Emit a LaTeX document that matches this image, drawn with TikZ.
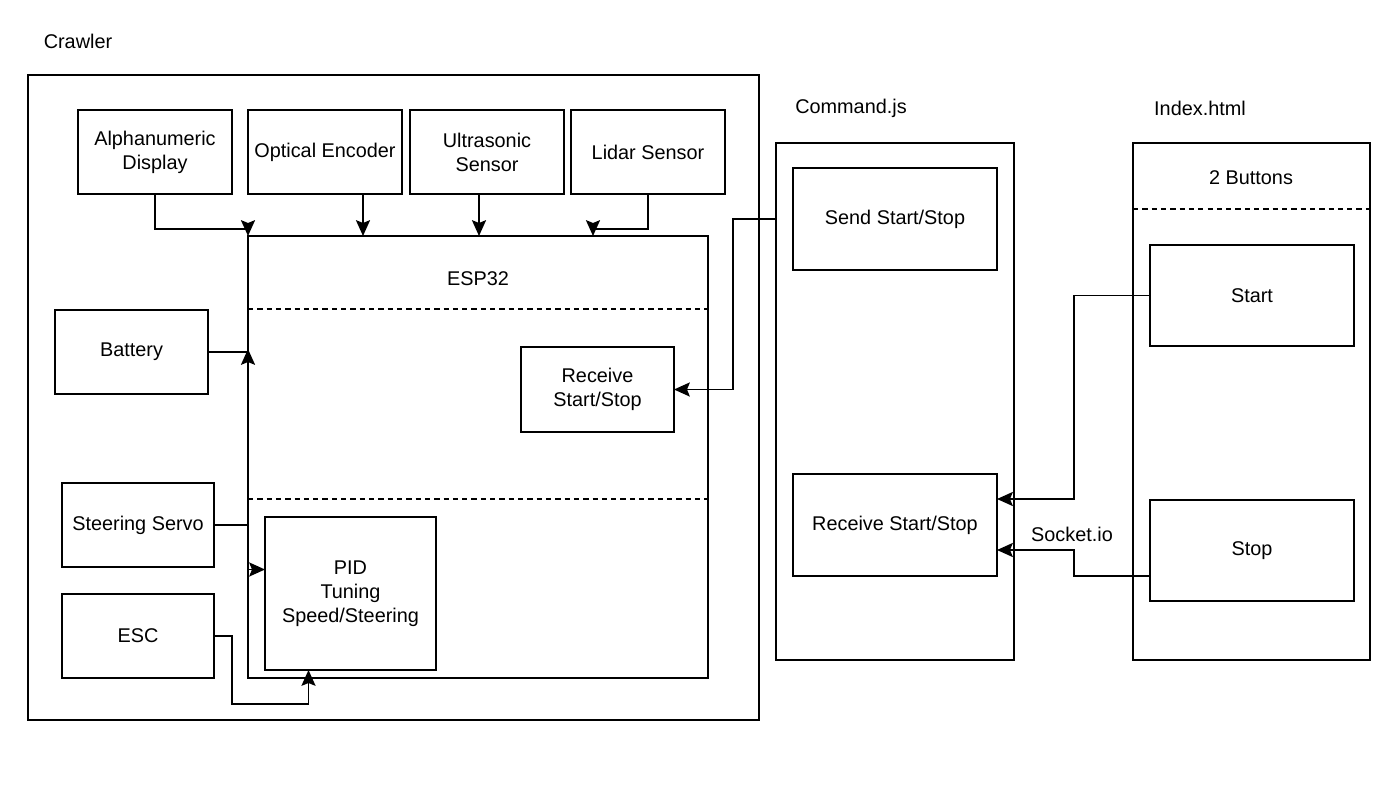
\documentclass[tikz,border=0pt]{standalone}
\usepackage{fontspec}
\setmainfont{Liberation Sans}
\usetikzlibrary{arrows.meta,calc}
\tikzset{
  box/.style={draw, line width=1.1pt, inner sep=0pt, outer sep=0pt, align=center, font=\fontsize{11.3}{13.6}\selectfont},
  lbl/.style={inner sep=0pt, font=\fontsize{11.3}{13.6}\selectfont},
  tip/.tip={Stealth[length=9pt,width=8pt,inset=1.6pt]},
  arr/.style={line width=1.1pt, -tip},
  conn/.style={line width=1.1pt},
  dline/.style={line width=1.1pt, dash pattern=on 3pt off 2.3pt}
}
\begin{document}
\begin{tikzpicture}[x=0.02cm,y=0.02cm]
\useasboundingbox (0,0) rectangle (1380,-794);
\begin{scope}[yscale=-1]
% containers
\node[box, minimum width=731*0.02cm, minimum height=645*0.02cm] (crawler) at (393.5,397.5) {};
\node[lbl] (crawlerlbl) at (78,41) {Crawler};
\node[box, minimum width=238*0.02cm, minimum height=517*0.02cm] (cmd) at (895,401.5) {};
\node[lbl] (cmdlbl) at (851,108) {Command.js};
\node[box, minimum width=237*0.02cm, minimum height=517*0.02cm] (index) at (1251.5,401.5) {};
\node[lbl] (indexlbl) at (1200,108) {Index.html};
\node[lbl] (twobtn) at (1251,178) {2 Buttons};
\node[box, minimum width=154*0.02cm, minimum height=84*0.02cm] (alpha) at (155,152) {Alphanumeric\\Display};
\node[box, minimum width=154*0.02cm, minimum height=84*0.02cm] (optical) at (325,152) {Optical Encoder};
\node[box, minimum width=154*0.02cm, minimum height=84*0.02cm] (ultra) at (487,152) {Ultrasonic\\Sensor};
\node[box, minimum width=154*0.02cm, minimum height=84*0.02cm] (lidar) at (648,152) {Lidar Sensor};
\node[box, minimum width=460*0.02cm, minimum height=442*0.02cm] (esp) at (478,457) {};
\node[lbl] (esplbl) at (478,279) {ESP32};
\node[box, minimum width=153*0.02cm, minimum height=85*0.02cm] (recv1) at (597.5,389.5) {Receive\\Start/Stop};
\node[box, minimum width=171*0.02cm, minimum height=153*0.02cm] (pid) at (350.5,593.5) {PID\\Tuning\\Speed/Steering};
\node[box, minimum width=153*0.02cm, minimum height=84*0.02cm] (battery) at (131.5,352) {Battery};
\node[box, minimum width=152*0.02cm, minimum height=84*0.02cm] (steer) at (138,525) {Steering Servo};
\node[box, minimum width=152*0.02cm, minimum height=84*0.02cm] (esc) at (138,636) {ESC};
\node[box, minimum width=204*0.02cm, minimum height=102*0.02cm] (send) at (895,219) {Send Start/Stop};
\node[box, minimum width=204*0.02cm, minimum height=102*0.02cm] (recv2) at (895,525) {Receive Start/Stop};
\node[box, minimum width=204*0.02cm, minimum height=101*0.02cm] (start) at (1252,295.5) {Start};
\node[box, minimum width=204*0.02cm, minimum height=101*0.02cm] (stop) at (1252,550.5) {Stop};
\node[lbl] (socket) at (1072,534) {Socket.io};
\end{scope}
% dashed separators
\draw[dline] ($(index.north west)+(0,-66)$) -- ($(index.north east)+(0,-66)$);
\draw[dline] ($(esp.north west)+(0,-73)$) -- ($(esp.north east)+(0,-73)$);
\draw[dline] ($(esp.north west)+(0,-263)$) -- ($(esp.north east)+(0,-263)$);
% connectors
\draw[arr] (alpha.south) -- ++(0,-35) -| (esp.north west);
\draw[arr] ($(optical.south)+(38,0)$) -- ($(esp.north west)+(115,0)$);
\draw[arr] ($(ultra.south)+(-8,0)$) -- ($(esp.north west)+(231,0)$);
\draw[arr] (lidar.south) -- ++(0,-35) -| ($(esp.north west)+(345,0)$);
\draw[conn] (battery.east) -- (esp.west |- battery.east);
\draw[arr] ($(esp.west |- battery.east)+(0,-14)$) -- ++(0,17);
\draw[arr] (steer.east) -- (esp.west |- steer.east) |- ($(pid.west)+(0,24)$);
\draw[arr] (esc.east) -- ++(18,0) -- ++(0,-68) -| ($(pid.south)+(-42,0)$);
\draw[arr] (cmd.west |- send.west) -- ++(-43,0) |- (recv1.east);
\draw[arr] (start.west) -- ++(-76,0) |- ($(recv2.east)+(0,26)$);
\draw[arr] ($(stop.west)+(0,-25.5)$) -- ++(-76,0) |- ($(recv2.east)+(0,-25)$);
\end{tikzpicture}
\end{document}
